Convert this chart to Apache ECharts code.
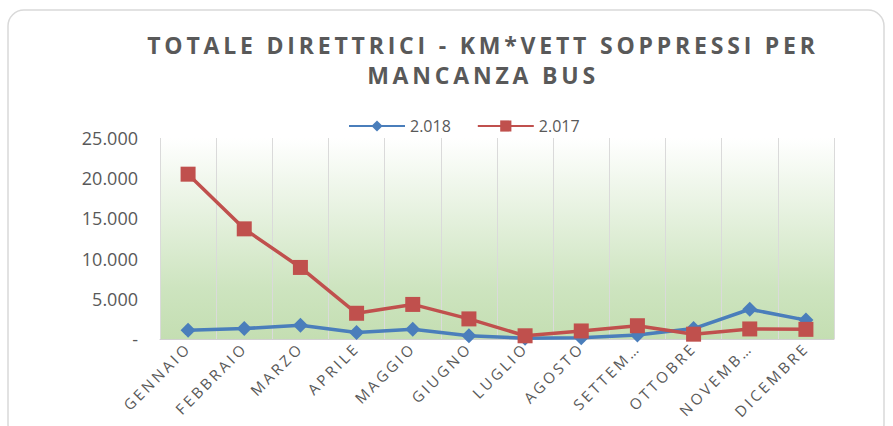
<!DOCTYPE html>
<html>
<head>
<meta charset="utf-8">
<script src="https://cdn.jsdelivr.net/npm/echarts@6/dist/echarts.min.js"></script>
<style>
  html, body { margin: 0; padding: 0; background: #fff; }
  #chart { width: 893px; height: 426px; }
  /* spaziatura lettere come nell'originale (titolo e mesi) */
  #chart text[style*="23px"], #chart text[font-size="23"], #chart text[font-size="23px"] { letter-spacing: 3.8px; }
  #chart text[style*="15px"], #chart text[font-size="15"], #chart text[font-size="15px"] { letter-spacing: 3px; }
</style>
</head>
<body>
<div id="chart"></div>
<script>
// dati
var mesi = ['GENNAIO', 'FEBBRAIO', 'MARZO', 'APRILE', 'MAGGIO', 'GIUGNO',
            'LUGLIO', 'AGOSTO', 'SETTEM…', 'OTTOBRE', 'NOVEMB…', 'DICEMBRE'];
var serie2018 = [1100, 1300, 1700, 800, 1200, 400, 100, 150, 500, 1300, 3700, 2350];
var serie2017 = [20500, 13700, 8900, 3200, 4300, 2500, 400, 1000, 1650, 600, 1250, 1200];
var nomi = ['2.018', '2.017'];

var grigio = '#595959';
var chart = echarts.init(document.getElementById('chart'), null, { renderer: 'svg' });

var option = {
    backgroundColor: '#fff',
    title: {
        text: 'TOTALE DIRETTRICI - KM*VETT SOPPRESSI PER\nMANCANZA BUS',
        left: 478,
        textAlign: 'center',
        top: 25,
        textStyle: {
            fontFamily: 'Open Sans',
            fontSize: 23,
            fontWeight: 'bold',
            color: grigio,
            lineHeight: 30
        }
    },
    graphic: [{
        type: 'rect',
        shape: { x: 8, y: 10, width: 876, height: 430, r: 16 },
        style: { fill: 'none', stroke: '#d9d9d9', lineWidth: 1.5 },
        z: -1
    }],
    legend: {
        top: 113,
        left: 343,
        itemWidth: 56,
        itemHeight: 14,
        itemGap: 26,
        textStyle: { fontFamily: 'Open Sans', fontSize: 16, color: grigio },
        data: nomi
    },
    grid: {
        left: 160,
        right: 59,
        top: 138,
        bottom: 87,
        show: true,
        borderWidth: 0,
        backgroundColor: new echarts.graphic.LinearGradient(0, 0, 0, 1, [
            { offset: 0, color: '#ffffff' },
            { offset: 0.75, color: '#cde4bf' },
            { offset: 1, color: '#c4deb2' }
        ])
    },
    xAxis: {
        type: 'category',
        data: mesi,
        boundaryGap: true,
        axisLine: { lineStyle: { color: '#d0d0d0' } },
        axisTick: { show: false },
        splitLine: { show: true, lineStyle: { color: '#dadada' } },
        axisLabel: {
            interval: 0,
            rotate: 45,
            margin: 6,
            fontFamily: 'Open Sans',
            fontSize: 15,
            color: grigio
        }
    },
    yAxis: {
        type: 'value',
        min: 0,
        max: 25000,
        interval: 5000,
        axisLine: { show: false },
        axisTick: { show: false },
        splitLine: { show: false },
        axisLabel: {
            margin: 22,
            fontFamily: 'Open Sans',
            fontSize: 18,
            color: grigio,
            formatter: function (v) {
                if (v === 0) return '-';
                return (v / 1000).toFixed(3);
            }
        }
    },
    series: [{
        name: nomi[0],
        type: 'line',
        data: serie2018,
        symbol: 'diamond',
        symbolSize: 15,
        color: '#4a7ebb',
        lineStyle: { width: 3.5 }
    }, {
        name: nomi[1],
        type: 'line',
        data: serie2017,
        symbol: 'rect',
        symbolSize: 15,
        color: '#c0504d',
        lineStyle: { width: 3.5 }
    }]
};

chart.setOption(option);
</script>
</body>
</html>
